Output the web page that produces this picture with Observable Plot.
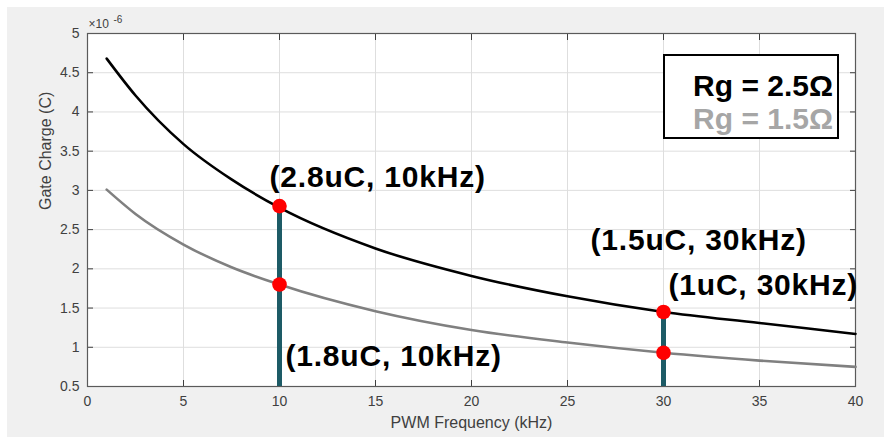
<!DOCTYPE html>
<html>
<head>
<meta charset="utf-8">
<script src="https://cdn.jsdelivr.net/npm/d3@7"></script>
<script src="https://cdn.jsdelivr.net/npm/@observablehq/plot@0.6"></script>
<style>
  html, body { margin: 0; padding: 0; background: white; }
  #wrap { position: relative; width: 884px; height: 438px; overflow: hidden; }
  #bg { position: absolute; left: 7px; top: 7px; width: 877px; height: 430px; background: #f0f0f0; }
  #chart { position: absolute; left: 0; top: 0; }
  #chart g[font-weight="bold"] { letter-spacing: 0.8px; }
  #legend {
    position: absolute; left: 663px; top: 54px; width: 168px; height: 81px;
    border: 2px solid #000; background: #fff;
    font-family: "Liberation Sans", Arial, Helvetica, sans-serif; font-weight: bold; font-size: 30px;
    text-align: right; padding-right: 4px; box-sizing: content-box; overflow: hidden;
  }
  #legend div { line-height: 33px; white-space: nowrap; }
  #legend .l1 { margin-top: 13px; color: #000; }
  #legend .l2 { color: #a6a6a6; }
</style>
</head>
<body>
<div id="wrap">
  <div id="bg"></div>
  <div id="chart"></div>
  <div id="legend"></div>
</div>
<script>
// ---- data ----
const freq  = [1, 2.5, 5, 7.5, 10, 15, 20, 25, 30, 35, 40];          // kHz
const rg25  = [4.68, 4.21, 3.59, 3.14, 2.78, 2.26, 1.91, 1.65, 1.45, 1.31, 1.17]; // ×1e-6 C
const rg15  = [3.01, 2.70, 2.31, 2.02, 1.80, 1.46, 1.22, 1.06, 0.93, 0.83, 0.75]; // ×1e-6 C

const markerFreq   = [10, 10, 30, 30];
const markerCharge = [2.8, 1.8, 1.45, 0.93];

const stemFreq = [10, 30];
const stemTop  = [2.8, 1.45];

const annText = ["(2.8uC, 10kHz)", "(1.8uC, 10kHz)", "(1.5uC, 30kHz)", "(1uC, 30kHz)"];
const annX    = [9.48, 10.31, 26.2, 30.26];
const annY    = [3.16, 0.89, 2.36, 1.79];

const legendLabels = ["Rg = 2.5Ω", "Rg = 1.5Ω"];

const xTicks = [0, 5, 10, 15, 20, 25, 30, 35, 40];
const xTickLabels = ["0", "5", "10", "15", "20", "25", "30", "35", "40"];
const yTicks = [0.5, 1, 1.5, 2, 2.5, 3, 3.5, 4, 4.5, 5];
const yTickLabels = ["0.5", "1", "1.5", "2", "2.5", "3", "3.5", "4", "4.5", "5"];

const xLabel = "PWM Frequency (kHz)";
const yLabel = "Gate Charge (C)";
const expBase = "×10";
const expPow = "-6";

// ---- tables ----
const curves = freq.map((f, i) => ({f, q25: rg25[i], q15: rg15[i]}));
const markers = markerFreq.map((f, i) => ({f, q: markerCharge[i]}));
const stems = stemFreq.map((f, i) => ({f, top: stemTop[i]}));
const anns = annText.map((t, i) => ({t, x: annX[i], y: annY[i]}));

const font = '"Liberation Sans", Arial, Helvetica, sans-serif';
const axisColor = "#404040";

const chart = Plot.plot({
  width: 884,
  height: 438,
  marginLeft: 87,
  marginRight: 29,
  marginTop: 33,
  marginBottom: 52,
  style: {background: "transparent", fontFamily: font, fontSize: "14px", color: axisColor},
  x: {domain: [0, 40]},
  y: {domain: [0.5, 5]},
  marks: [
    Plot.frame({fill: "white"}),
    Plot.gridX(xTicks, {stroke: "#dedede", strokeOpacity: 1}),
    Plot.gridY(yTicks, {stroke: "#dedede", strokeOpacity: 1}),
    // tick labels
    Plot.axisX(xTicks, {anchor: "bottom", tickSize: 0, tickPadding: 10, tickFormat: (d, i) => xTickLabels[i], label: null, fontSize: 14, fill: axisColor}),
    Plot.axisY(yTicks, {anchor: "left", tickSize: 0, tickPadding: 8, tickFormat: (d, i) => yTickLabels[i], label: null, fontSize: 14, fill: axisColor}),
    // inward ticks on all four sides
    Plot.axisX(xTicks, {anchor: "bottom", tickSize: 6, dy: -6, tickFormat: () => "", label: null, stroke: axisColor}),
    Plot.axisX(xTicks, {anchor: "top", tickSize: 6, dy: 6, tickFormat: () => "", label: null, stroke: axisColor}),
    Plot.axisY(yTicks, {anchor: "left", tickSize: 6, dx: 6, tickFormat: () => "", label: null, stroke: axisColor}),
    Plot.axisY(yTicks, {anchor: "right", tickSize: 6, dx: -6, tickFormat: () => "", label: null, stroke: axisColor}),
    Plot.frame({stroke: "#5a5a5a", strokeWidth: 1.2}),
    // axis titles
    Plot.text([xLabel], {frameAnchor: "bottom", dy: 36, text: d => d, fontSize: 16, fill: axisColor, lineAnchor: "middle"}),
    Plot.text([yLabel], {frameAnchor: "left", dx: -42, rotate: -90, text: d => d, fontSize: 16, fill: axisColor, lineAnchor: "middle"}),
    Plot.text([expBase], {frameAnchor: "top-left", dx: 1, dy: -9, text: d => d, fontSize: 12, fill: axisColor, textAnchor: "start", lineAnchor: "middle"}),
    Plot.text([expPow], {frameAnchor: "top-left", dx: 26, dy: -14, text: d => d, fontSize: 10, fill: axisColor, textAnchor: "start", lineAnchor: "middle"}),
    // curves
    Plot.line(curves, {x: "f", y: "q15", stroke: "#808080", strokeWidth: 2.6, curve: "monotone-x"}),
    Plot.line(curves, {x: "f", y: "q25", stroke: "#000000", strokeWidth: 2.6, curve: "monotone-x"}),
    // stems
    Plot.ruleX(stems, {x: "f", y1: () => 0.5, y2: "top", stroke: "#1d5b66", strokeWidth: 5}),
    // markers
    Plot.dot(markers, {x: "f", y: "q", r: 7.3, fill: "#ff0000", stroke: "none"}),
    // annotations
    Plot.text(anns, {x: "x", y: "y", text: "t", textAnchor: "start", lineAnchor: "middle", fontSize: 30, fontWeight: "bold", fill: "#000"})
  ]
});
document.getElementById("chart").appendChild(chart);

const leg = document.getElementById("legend");
legendLabels.forEach((t, i) => {
  const d = document.createElement("div");
  d.className = "l" + (i + 1);
  d.textContent = t;
  leg.appendChild(d);
});
</script>
</body>
</html>
